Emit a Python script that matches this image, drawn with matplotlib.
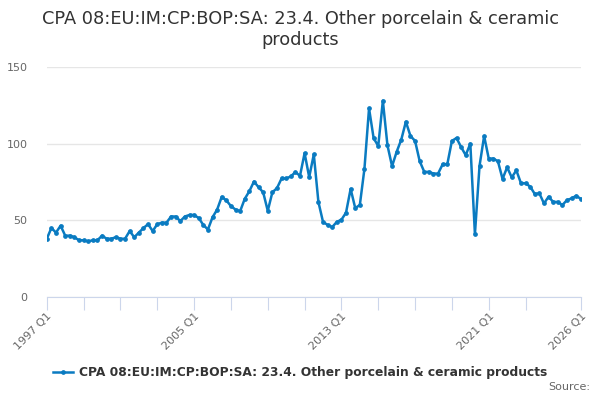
import matplotlib
matplotlib.use("Agg")
import matplotlib.pyplot as plt

# quarterly index values, 1997 Q1 .. 2026 Q1
values = [
    38, 45, 42, 46.5, 40, 40, 39, 37, 37, 36.3, 37, 37, 40, 38, 38, 39,
    38, 38, 43, 39, 42, 45, 47.5, 43, 47.5, 48.5, 48.5, 52.5, 52.5, 49.5, 52.5, 53.5,
    53.5, 51.5, 47, 44, 52, 57, 65.3, 63, 59.3, 57, 56, 64, 69, 75.3, 71.6, 68.3,
    56.2, 68.3, 71, 77.3, 77.3, 78.6, 81.5, 79, 93.8, 78.2, 93, 62, 49, 47, 45.6, 49,
    50.4, 55, 70.5, 58, 60, 83.6, 123, 103.5, 98.5, 128, 98.9, 85.3, 94.7, 102.6, 114.3, 105,
    101.8, 88.6, 81.6, 81.6, 80.5, 80.5, 86.6, 86.6, 101.8, 103.7, 97.8, 92.5, 100, 41, 85.5, 105,
    90.3, 90.3, 88.5, 77, 84.6, 78, 82.6, 74.2, 74.2, 72, 67.2, 67.6, 61, 65.4, 62, 62,
    60, 63.2, 64.3, 66, 64,
]
quarters = [f"{1997 + i // 4} Q{i % 4 + 1}" for i in range(len(values))]
x_labels = ["1997 Q1", "2005 Q1", "2013 Q1", "2021 Q1", "2026 Q1"]
y_ticks = [0, 50, 100, 150]
series_name = "CPA 08:EU:IM:CP:BOP:SA: 23.4. Other porcelain & ceramic products"

plt.rcParams["font.family"] = ["DejaVu Sans"]

fig = plt.figure(figsize=(6, 4), dpi=100)
ax = fig.add_axes([0.078, 0.2575, 0.89, 0.575])

xs = list(range(len(values)))
line, = ax.plot(xs, values, color="#0a7bc1", linewidth=1.8,
                marker="o", markersize=2.4, label=series_name)

ax.set_xlim(0, len(values) - 1)
ax.set_ylim(0, 150)
ax.set_yticks(y_ticks)
ax.yaxis.grid(True, color="#e6e6e6", linewidth=1)
ax.set_axisbelow(True)

# ticks every 8 quarters up to 2023 Q1, then the last quarter
tick_pos = list(range(0, 105, 8)) + [len(values) - 1]
ax.set_xticks(tick_pos)
ax.set_xticklabels([quarters[p] if quarters[p] in x_labels else "" for p in tick_pos],
                   rotation=45, ha="right", rotation_mode="anchor",
                   color="#666666", fontsize=8)
ax.tick_params(axis="x", length=9, color="#ccd6eb", pad=1)
ax.tick_params(axis="y", length=0, labelcolor="#666666", labelsize=8, pad=14)

for s in ["top", "right", "left"]:
    ax.spines[s].set_visible(False)
ax.spines["bottom"].set_color("#ccd6eb")

fig.text(0.5, 0.975, "CPA 08:EU:IM:CP:BOP:SA: 23.4. Other porcelain & ceramic\nproducts",
         ha="center", va="top", fontsize=12.8, color="#333333", linespacing=1.2)

fig.legend(handles=[line], loc="center", bbox_to_anchor=(0.5, 0.068), frameon=False,
           prop={"weight": "bold", "size": 8.8}, labelcolor="#333333",
           handlelength=1.6, handletextpad=0.5)

fig.text(0.983, 0.02, "Source:", ha="right", va="bottom", fontsize=8, color="#666666")

fig.savefig("out.png", dpi=100)
